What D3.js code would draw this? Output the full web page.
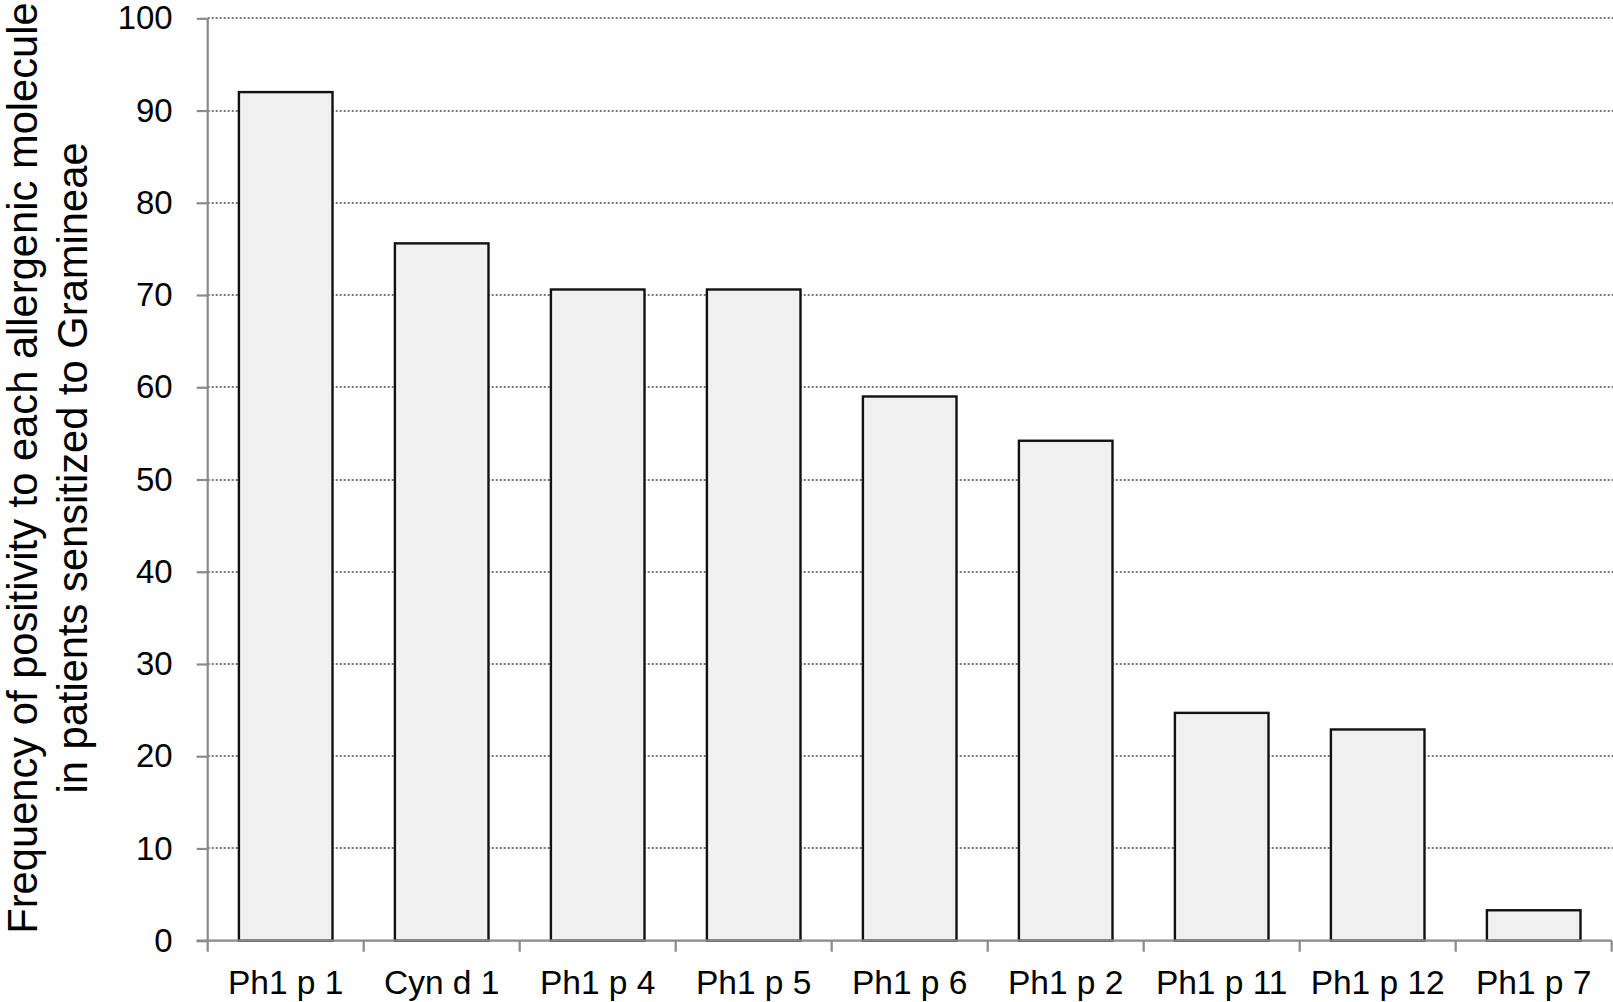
<!DOCTYPE html>
<html>
<head>
<meta charset="utf-8">
<script src="https://cdn.jsdelivr.net/npm/d3@7.9.0/dist/d3.min.js"></script>
<style>
  html, body { margin: 0; padding: 0; background: #fff; }
  svg { display: block; font-family: "Liberation Sans", Arial, Helvetica, sans-serif; }
</style>
</head>
<body>
<svg id="chart"></svg>
<script>
// Data
const categories = ['Ph1 p 1', 'Cyn d 1', 'Ph1 p 4', 'Ph1 p 5', 'Ph1 p 6', 'Ph1 p 2', 'Ph1 p 11', 'Ph1 p 12', 'Ph1 p 7'];
const values = [92, 75.6, 70.6, 70.6, 59, 54.2, 24.7, 22.9, 3.3];
const yTicks = [0, 10, 20, 30, 40, 50, 60, 70, 80, 90, 100];
const titleLines = ['Frequency of positivity to each allergenic molecule', 'in patients sensitized to Gramineae'];

const width = 1613;
const height = 1002;
const margin = { top: 18.3, right: 1.3, bottom: 61.3, left: 207.7 };

const svg = d3.select('#chart')
  .attr('width', width)
  .attr('height', height);

const x = d3.scaleBand()
  .domain(categories)
  .range([margin.left, width - margin.right])
  .paddingInner(0.4)
  .paddingOuter(0.2);

const y = d3.scaleLinear()
  .domain([0, 100])
  .range([height - margin.bottom, margin.top]);

const axisColor = '#8a8a8a';

// dotted gridlines
svg.append('g')
  .selectAll('line')
  .data(yTicks.filter(d => d > 0))
  .join('line')
  .attr('x1', margin.left)
  .attr('x2', width)
  .attr('y1', d => Math.round(y(d)))
  .attr('y2', d => Math.round(y(d)))
  .attr('stroke', '#777')
  .attr('stroke-width', 2)
  .attr('stroke-dasharray', '2,2');

// bars
svg.append('g')
  .selectAll('rect')
  .data(values)
  .join('rect')
  .attr('x', (d, i) => x(categories[i]))
  .attr('y', d => y(d))
  .attr('width', x.bandwidth())
  .attr('height', d => y(0) - y(d))
  .attr('fill', '#f0f0f0')
  .attr('stroke', '#111')
  .attr('stroke-width', 2.4);

// y axis
const yAxis = svg.append('g')
  .attr('transform', `translate(${margin.left},0)`)
  .call(d3.axisLeft(y).tickValues(yTicks).tickSize(11).tickPadding(24));
yAxis.select('.domain').attr('stroke', axisColor).attr('stroke-width', 2.2).attr('d', `M0,${y(100)}V${y(0)}`);
yAxis.selectAll('.tick line').attr('stroke', axisColor).attr('stroke-width', 2.2);
yAxis.selectAll('.tick text')
  .attr('font-size', 33)
  .attr('fill', '#000')
  .attr('font-family', '"Liberation Sans", Arial, sans-serif');

// x axis: line with ticks at category boundaries
const xAxis = svg.append('g')
  .attr('transform', `translate(0,${y(0)})`);
const step = x.step();
const x0 = x.range()[0];
xAxis.append('line')
  .attr('x1', margin.left - 11)
  .attr('x2', width - margin.right)
  .attr('stroke', axisColor)
  .attr('stroke-width', 2.2);
xAxis.selectAll('line.bound')
  .data(d3.range(categories.length + 1))
  .join('line')
  .attr('class', 'bound')
  .attr('x1', i => x0 + i * step)
  .attr('x2', i => x0 + i * step)
  .attr('y1', 0)
  .attr('y2', 11)
  .attr('stroke', axisColor)
  .attr('stroke-width', 2.2);
xAxis.selectAll('text')
  .data(categories)
  .join('text')
  .attr('x', d => x(d) + x.bandwidth() / 2)
  .attr('y', 53)
  .attr('text-anchor', 'middle')
  .attr('font-size', 33.5)
  .attr('fill', '#000')
  .text(d => d);

// y axis title, two lines
const midY = 468;
svg.append('g')
  .selectAll('text')
  .data(titleLines)
  .join('text')
  .attr('transform', (d, i) => `translate(${37 + i * 50},${midY}) rotate(-90)`)
  .attr('text-anchor', 'middle')
  .attr('font-size', 41.7)
  .attr('fill', '#000')
  .text(d => d);
</script>
</body>
</html>
